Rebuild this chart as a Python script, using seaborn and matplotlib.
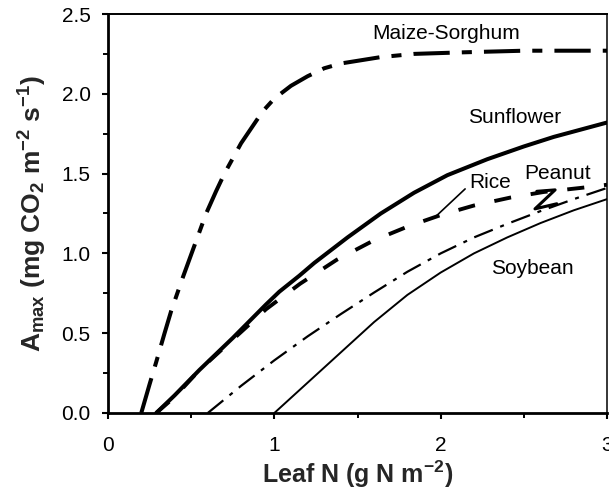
import matplotlib
matplotlib.use("Agg")
import matplotlib.pyplot as plt
import seaborn as sns
import pandas as pd
from matplotlib.ticker import MultipleLocator

# ---- data ----
maize_n = [0.20, 0.25, 0.29, 0.34, 0.38, 0.45, 0.52, 0.59, 0.65, 0.70, 0.80, 0.93, 1.00, 1.10, 1.20, 1.30, 1.40, 1.64, 1.84, 2.14, 2.50, 3.00]
maize_a = [0.00, 0.18, 0.32, 0.50, 0.64, 0.85, 1.05, 1.25, 1.39, 1.50, 1.69, 1.89, 1.97, 2.05, 2.11, 2.16, 2.19, 2.23, 2.25, 2.26, 2.27, 2.27]

sunflower_n = [0.29, 0.40, 0.55, 0.75, 0.95, 1.03, 1.15, 1.24, 1.44, 1.64, 1.84, 2.04, 2.28, 2.50, 2.68, 3.00]
sunflower_a = [0.00, 0.11, 0.27, 0.47, 0.68, 0.76, 0.86, 0.94, 1.10, 1.25, 1.38, 1.49, 1.59, 1.67, 1.73, 1.82]

rice_n = [0.29, 0.40, 0.55, 0.75, 0.95, 1.155, 1.375, 1.595, 1.806, 2.00, 2.20, 2.42, 2.62, 2.84, 3.00]
rice_a = [0.00, 0.10, 0.27, 0.46, 0.65, 0.81, 0.96, 1.08, 1.17, 1.24, 1.30, 1.35, 1.385, 1.41, 1.43]

peanut_n = [0.60, 0.80, 1.00, 1.20, 1.40, 1.60, 1.80, 2.00, 2.20, 2.40, 2.60, 2.80, 3.00]
peanut_a = [0.00, 0.17, 0.33, 0.48, 0.62, 0.755, 0.885, 1.00, 1.10, 1.185, 1.265, 1.34, 1.41]

soybean_n = [1.00, 1.20, 1.40, 1.60, 1.80, 2.00, 2.20, 2.40, 2.60, 2.80, 3.00]
soybean_a = [0.00, 0.19, 0.38, 0.57, 0.74, 0.88, 1.00, 1.10, 1.19, 1.27, 1.34]

crops = ["Maize-Sorghum", "Sunflower", "Rice", "Peanut", "Soybean"]
x_ticks = [0, 1, 2, 3]
y_ticks = [0.0, 0.5, 1.0, 1.5, 2.0, 2.5]
x_label = "Leaf N (g N m$^{-2}$)"
y_label = "A$_{max}$ (mg CO$_2$ m$^{-2}$ s$^{-1}$)"

series = {
    "Maize-Sorghum": (maize_n, maize_a),
    "Sunflower": (sunflower_n, sunflower_a),
    "Rice": (rice_n, rice_a),
    "Peanut": (peanut_n, peanut_a),
    "Soybean": (soybean_n, soybean_a),
}
rows = []
for c in crops:
    for n, a in zip(*series[c]):
        rows.append({"crop": c, "leaf_n": n, "amax": a})
df = pd.DataFrame(rows)

# ---- style ----
sns.set_style("ticks")
plt.rcParams["font.family"] = ["Liberation Sans", "DejaVu Sans"]
plt.rcParams["mathtext.default"] = "regular"

fig = plt.figure(figsize=(6.09, 4.95), dpi=100)
ax = fig.add_axes([108 / 609, 1 - 413 / 495, (607 - 108) / 609, (413 - 14) / 495])

sizes = {"Maize-Sorghum": 2.9, "Sunflower": 2.9, "Rice": 2.8, "Peanut": 1.6, "Soybean": 1.4}
dashes = {"Maize-Sorghum": (9, 3, 2.5, 3), "Sunflower": "", "Rice": (4.4, 5.1),
          "Peanut": (9, 3.6, 1.8, 3.6), "Soybean": ""}

sns.lineplot(data=df, x="leaf_n", y="amax", style="crop", size="crop",
             sizes=sizes, dashes=dashes, style_order=crops, size_order=crops,
             color="black", estimator=None, sort=False, legend=False, ax=ax)

ax.set_xlim(0, 3)
ax.set_ylim(0, 2.5)
ax.set_xticks(x_ticks)
ax.set_xticklabels([str(t) for t in x_ticks])
ax.set_yticks(y_ticks)
ax.set_yticklabels([f"{t:.1f}" for t in y_ticks])
ax.xaxis.set_minor_locator(MultipleLocator(0.5))
ax.yaxis.set_minor_locator(MultipleLocator(0.25))
ax.tick_params(axis="both", which="major", direction="out", length=4.5, width=1.5,
               labelsize=15, color="black", labelcolor="black")
ax.tick_params(axis="both", which="minor", direction="out", length=3.5, width=1.4, color="black")
ax.tick_params(axis="x", which="major", pad=12)
ax.tick_params(axis="y", which="major", pad=8)

ax.set_xlabel(x_label, fontsize=18, fontweight="bold", labelpad=3)
ax.set_ylabel(y_label, fontsize=19, fontweight="bold", labelpad=9)

for side, lw in {"left": 2.0, "bottom": 2.0, "top": 1.4, "right": 1.1}.items():
    ax.spines[side].set_visible(True)
    ax.spines[side].set_linewidth(lw)
    ax.spines[side].set_color("black")

# ---- annotations ----
txt = dict(fontsize=15, ha="center", va="center", color="black")
ax.text(2.03, 2.375, "Maize-Sorghum", **txt)
ax.text(2.447, 1.85, "Sunflower", **txt)
ax.text(2.297, 1.446, "Rice", **txt)
ax.text(2.70, 1.503, "Peanut", **txt)
ax.text(2.553, 0.906, "Soybean", **txt)
# pointer from "Rice" to its curve
ax.plot([2.147, 1.966], [1.404, 1.227], color="black", lw=1.2)
# zig-zag pointer for "Peanut"
ax.plot([2.578, 2.688, 2.567, 2.698], [1.389, 1.398, 1.279, 1.311], color="black", lw=2.2)

fig.savefig("out.png", dpi=100)
